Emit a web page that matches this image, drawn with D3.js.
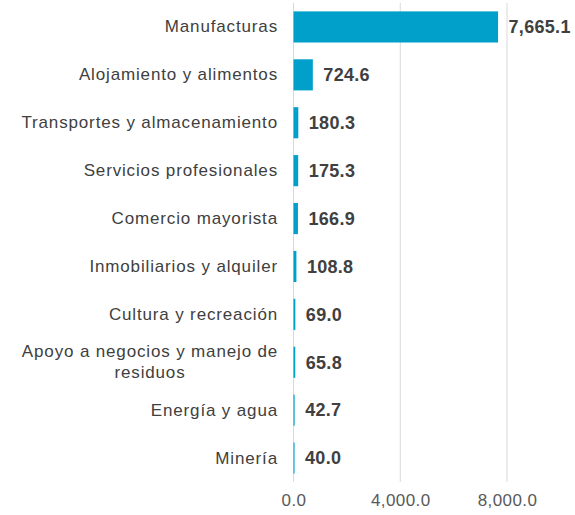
<!DOCTYPE html>
<html>
<head>
<meta charset="utf-8">
<script src="https://cdn.jsdelivr.net/npm/d3@7"></script>
<style>
  body { margin: 0; background: #fff; }
  text { font-family: "Liberation Sans", Arial, sans-serif; }
</style>
</head>
<body>
<div id="container"></div>
<script>
// categories and values (millions)
var categories = [
  "Manufacturas",
  "Alojamiento y alimentos",
  "Transportes y almacenamiento",
  "Servicios profesionales",
  "Comercio mayorista",
  "Inmobiliarios y alquiler",
  "Cultura y recreación",
  "Apoyo a negocios y manejo de residuos",
  "Energía y agua",
  "Minería"
];
var values = [7665.1, 724.6, 180.3, 175.3, 166.9, 108.8, 69.0, 65.8, 42.7, 40.0];
var tickValues = [0, 4000, 8000];

var data = categories.map(function(c, i) { return {cat: c, val: values[i]}; });

// set the dimensions and margins of the graph
var margin = {top: 3, right: 68, bottom: 33, left: 293.5},
    width = 575 - margin.left - margin.right,
    height = 515 - margin.top - margin.bottom;

var svg = d3.select("#container")
  .append("svg")
    .attr("width", 575)
    .attr("height", 515)
  .append("g")
    .attr("transform", "translate(" + margin.left + "," + margin.top + ")");

var x = d3.scaleLinear()
  .domain([0, 8000])
  .range([0, 213.5]);

var y = d3.scaleBand()
  .domain(categories)
  .range([0, height])
  .paddingInner(0.35)
  .paddingOuter(0.175);

var fmt = d3.format(",.1f");

// gridlines
svg.selectAll(".grid")
  .data(tickValues)
  .enter()
  .append("line")
    .attr("x1", function(d) { return x(d); })
    .attr("x2", function(d) { return x(d); })
    .attr("y1", 0)
    .attr("y2", height)
    .attr("stroke", "#d9d9d9")
    .attr("stroke-width", 1);

// X axis labels
var xAxis = svg.append("g")
  .attr("transform", "translate(0," + height + ")")
  .call(d3.axisBottom(x).tickValues(tickValues).tickSize(0).tickPadding(12).tickFormat(fmt));
xAxis.select(".domain").remove();
xAxis.selectAll("text")
  .style("font-size", "17px")
  .style("letter-spacing", "0.4px")
  .attr("fill", "#595959");

// Y axis labels
var yAxis = svg.append("g")
  .call(d3.axisLeft(y).tickSize(0).tickPadding(15.5));
yAxis.select(".domain").remove();
yAxis.selectAll("text")
  .style("font-size", "17px")
  .style("letter-spacing", "0.85px")
  .attr("fill", "#404040")
  .each(function(d) {
    if (d === "Apoyo a negocios y manejo de residuos") {
      var t = d3.select(this);
      t.text(null).attr("text-anchor", "middle");
      t.append("tspan").attr("x", -143.5).attr("dy", "-0.3em").text("Apoyo a negocios y manejo de");
      t.append("tspan").attr("x", -143.5).attr("dy", "1.25em").text("residuos");
    }
  });

// Bars
svg.selectAll(".bar")
  .data(data)
  .enter()
  .append("rect")
    .attr("x", x(0))
    .attr("y", function(d) { return y(d.cat); })
    .attr("width", function(d) { return x(d.val); })
    .attr("height", y.bandwidth())
    .attr("fill", "#00A0CB");

// value labels
svg.selectAll(".lbl")
  .data(data)
  .enter()
  .append("text")
    .attr("x", function(d) { return x(d.val) + 10.5; })
    .attr("y", function(d) { return y(d.cat) + y.bandwidth() / 2; })
    .attr("dy", "0.35em")
    .style("font-size", "18px")
    .style("font-weight", "bold")
    .style("letter-spacing", "0.3px")
    .attr("fill", "#404040")
    .text(function(d) { return fmt(d.val); });
</script>
</body>
</html>
